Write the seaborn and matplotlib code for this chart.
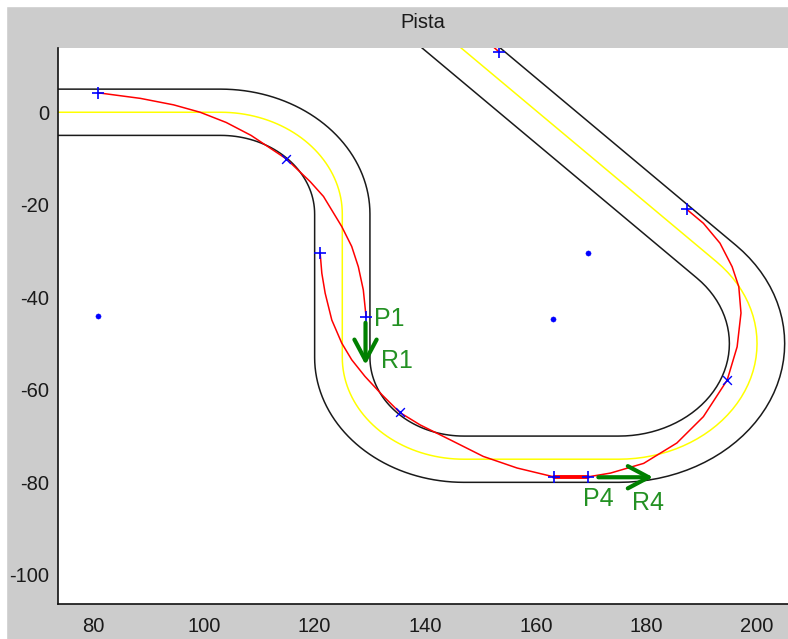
import numpy as np
import matplotlib
matplotlib.use("Agg")
import matplotlib.pyplot as plt
import seaborn as sns
from matplotlib.patches import Rectangle

# ---------------- data ----------------
# track centreline: start point, three circular corners, end point
track_start = (60.0, 0.0)
arc_cx = [103.0, 147.0, 175.0]
arc_cy = [-22.0, -53.0, -50.0]
arc_r = [22.0, 22.0, 25.0]
arc_a0 = [90.0, 180.0, 270.0]
arc_a1 = [0.0, 270.0, 405.0]
track_end = (138.4, 22.0)
half_width = 5.0

# racing line pieces
red_a_x = [80.9, 88.5, 94.5, 99.3, 104.0, 108.5, 114.9, 119.2, 121.6, 124.9, 126.7, 127.9, 128.8, 129.3]
red_a_y = [4.2, 3.0, 1.6, 0.0, -2.2, -5.0, -10.1, -15.0, -18.2, -24.7, -29.0, -33.4, -38.4, -44.2]
red_b_x = [121.0, 121.3, 121.9, 123.1, 124.9, 126.7, 129.1, 132.2, 135.4, 139.1, 144.5, 150.5, 156.6, 163.2]
red_b_y = [-30.5, -34.8, -39.1, -44.9, -49.9, -53.5, -57.1, -61.1, -64.9, -67.6, -70.8, -74.4, -76.9, -78.8]
red_c_x = [163.2, 169.5]
red_c_y = [-78.8, -78.8]
red_d_x = [169.5, 173.5, 179.5, 185.5, 190.3, 194.6, 196.4, 197.1, 196.7, 195.5, 193.3, 190.3, 187.3]
red_d_y = [-78.8, -78.0, -75.9, -71.5, -65.8, -57.9, -50.7, -43.4, -37.7, -33.4, -28.3, -24.0, -21.0]
red_e_x = [153.4, 151.0]
red_e_y = [13.0, 15.5]

# markers
plus_x = [80.9, 121.0, 129.3, 163.2, 169.5, 187.3, 153.4]
plus_y = [4.2, -30.5, -44.2, -78.8, -78.8, -21.0, 13.0]
cross_x = [114.9, 135.4, 194.6]
cross_y = [-10.1, -64.9, -57.9]
dot_x = [80.8, 163.1, 169.5]
dot_y = [-44.0, -44.7, -30.5]

# arrows (start and end) and labels
arrow_x0 = [129.2, 171.3]
arrow_y0 = [-45.5, -78.9]
arrow_x1 = [129.2, 181.2]
arrow_y1 = [-54.6, -78.9]
label_text = ["P1", "R1", "P4", "R4"]
label_x = [130.8, 132.0, 168.5, 177.4]
label_y = [-46.3, -55.2, -85.2, -86.0]

x_ticks = [80, 100, 120, 140, 160, 180, 200]
y_ticks = [-100, -80, -60, -40, -20, 0]

# ---------------- geometry ----------------
pts = [track_start]
for cx, cy, r, a0, a1 in zip(arc_cx, arc_cy, arc_r, arc_a0, arc_a1):
    ang = np.deg2rad(np.linspace(a0, a1, 40))
    pts += list(zip(cx + r * np.cos(ang), cy + r * np.sin(ang)))
pts.append(track_end)
P = np.array(pts)
d = np.diff(P, axis=0)
d = d / np.linalg.norm(d, axis=1, keepdims=True)
t = np.vstack([d[:1], d[:-1] + d[1:], d[-1:]])
t = t / np.linalg.norm(t, axis=1, keepdims=True)
nrm = np.column_stack([-t[:, 1], t[:, 0]])
left = P + half_width * nrm
right = P - half_width * nrm

# ---------------- plotting ----------------
sns.set_style("white")
plt.rcParams["font.family"] = ["Liberation Sans", "DejaVu Sans"]
plt.rcParams["axes.unicode_minus"] = False

fig = plt.figure(figsize=(7.88, 6.39), dpi=100, facecolor="#cccccc")
fig.patches.append(Rectangle((0, 1 - 6 / 639), 1, 6 / 639, transform=fig.transFigure,
                             color="white", zorder=0))
fig.patches.append(Rectangle((0, 0), 6 / 788, 1, transform=fig.transFigure,
                             color="white", zorder=0))
ax = fig.add_axes([57.5 / 788, 35 / 639, (788 - 57.5) / 788, (604 - 47.5) / 639])
ax.set_facecolor("white")

kw = dict(sort=False, estimator=None, ax=ax, legend=False)
sns.lineplot(x=left[:, 0], y=left[:, 1], color="#1a1a1a", lw=1.1, **kw)
sns.lineplot(x=right[:, 0], y=right[:, 1], color="#1a1a1a", lw=1.1, **kw)
sns.lineplot(x=P[:, 0], y=P[:, 1], color="#ffff00", lw=1.1, **kw)

for xs, ys, lw in [(red_a_x, red_a_y, 1.1), (red_b_x, red_b_y, 1.1), (red_c_x, red_c_y, 2.8),
                   (red_d_x, red_d_y, 1.1), (red_e_x, red_e_y, 1.1)]:
    sns.lineplot(x=xs, y=ys, color="#ff0000", lw=lw, **kw)

sns.scatterplot(x=plus_x, y=plus_y, marker="+", s=70, color="#0000ff", linewidth=1.2, ax=ax, zorder=5)
sns.scatterplot(x=cross_x, y=cross_y, marker="x", s=40, color="#0000ff", linewidth=1.0, ax=ax, zorder=5)
sns.scatterplot(x=dot_x, y=dot_y, marker="o", s=14, color="#0000ff", edgecolor="#0000ff", ax=ax, zorder=5)

for x0, y0, x1, y1 in zip(arrow_x0, arrow_y0, arrow_x1, arrow_y1):
    ax.annotate("", xy=(x1, y1), xytext=(x0, y0),
                arrowprops=dict(arrowstyle="->,head_length=0.75,head_width=0.4",
                                color="#008000", lw=3.0, shrinkA=0, shrinkB=0,
                                mutation_scale=20), zorder=6)
for s, x, y in zip(label_text, label_x, label_y):
    ax.text(x, y, s, color="#239123", fontsize=18, ha="left", va="baseline", zorder=7)

ax.set_xlim(73.5, 205.6)
ax.set_ylim(-106.3, 14.0)
ax.set_xticks(x_ticks)
ax.set_yticks(y_ticks)
ax.set_xticklabels([str(v) for v in x_ticks])
ax.set_yticklabels([str(v) for v in y_ticks])
for sp in ["top", "right"]:
    ax.spines[sp].set_visible(False)
for sp in ["left", "bottom"]:
    ax.spines[sp].set_color("#111111")
    ax.spines[sp].set_linewidth(1.2)
ax.tick_params(axis="both", direction="in", length=6.5, width=1.0, color="#111111",
               labelsize=14.5, labelcolor="#1a1a1a")
ax.tick_params(axis="x", pad=9)
ax.tick_params(axis="y", pad=6)
ax.grid(False)

fig.text((57.5 + 788) / 2 / 788, 1 - 22.5 / 639, "Pista", ha="center", va="center",
         fontsize=14.5, color="#1a1a1a")

fig.savefig("out.png", dpi=100, facecolor=fig.get_facecolor())
